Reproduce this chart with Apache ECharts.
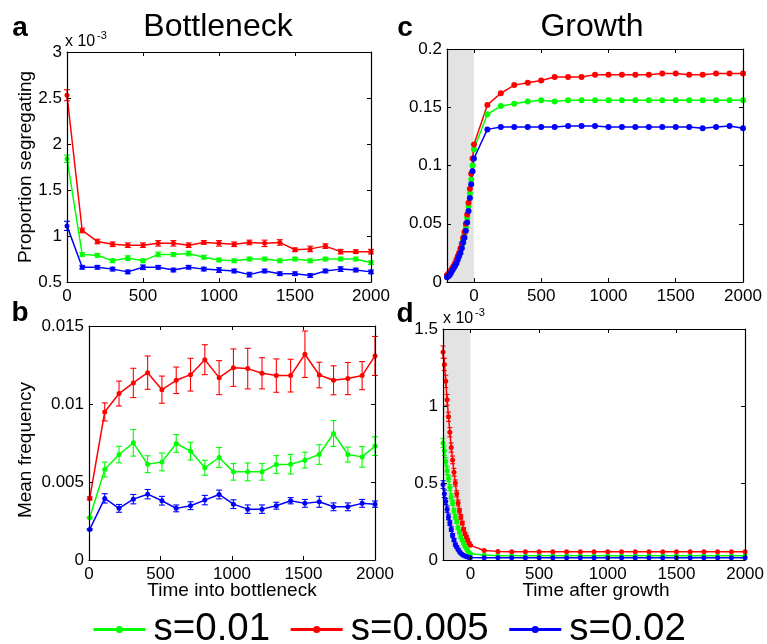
<!DOCTYPE html>
<html><head><meta charset="utf-8">
<script src="https://cdn.jsdelivr.net/npm/echarts@6/dist/echarts.min.js"></script>
<style>html,body{margin:0;padding:0;background:#fff}#c{width:767px;height:644px}</style>
</head><body><div id="c"></div>
<script>
// ---------- Panel a: proportion segregating (axis in units of 10^-3) ----------
const timeA = [0,100,200,300,400,500,600,700,800,900,1000,1100,1200,1300,1400,1500,1600,1700,1800,1900,2000];
const aGreen = [1.84,0.80,0.79,0.73,0.76,0.73,0.80,0.80,0.81,0.77,0.74,0.73,0.75,0.75,0.73,0.75,0.73,0.75,0.75,0.75,0.71];
const aRed   = [2.53,1.06,0.94,0.91,0.90,0.90,0.92,0.92,0.90,0.93,0.92,0.91,0.93,0.92,0.93,0.85,0.86,0.89,0.83,0.83,0.83];
const aBlue  = [1.11,0.66,0.66,0.64,0.61,0.66,0.66,0.63,0.66,0.64,0.63,0.62,0.58,0.62,0.59,0.59,0.57,0.62,0.64,0.63,0.61];
const aGreenErr = [0.04,0.02,0.02,0.02,0.025,0.02,0.025,0.02,0.025,0.02,0.02,0.02,0.02,0.02,0.02,0.02,0.02,0.02,0.02,0.02,0.02];
const aRedErr   = [0.06,0.025,0.025,0.025,0.025,0.025,0.03,0.03,0.025,0.02,0.03,0.025,0.025,0.035,0.03,0.02,0.03,0.025,0.025,0.02,0.025];
const aBlueErr  = [0.05,0.02,0.02,0.02,0.02,0.025,0.02,0.02,0.02,0.02,0.025,0.02,0.025,0.02,0.02,0.02,0.02,0.02,0.025,0.02,0.02];

// ---------- Panel b: mean frequency ----------
const timeB = [5,110,210,310,410,510,610,710,810,910,1010,1110,1210,1310,1410,1510,1610,1710,1810,1910,2000];
const bRed   = [0.00395,0.00949,0.01067,0.01135,0.01201,0.01092,0.01152,0.01188,0.01284,0.01169,0.01233,0.01227,0.01197,0.01182,0.01182,0.01319,0.01186,0.01152,0.01163,0.01182,0.01308];
const bGreen = [0.00271,0.00580,0.00676,0.00751,0.00614,0.00629,0.00747,0.00698,0.00591,0.00657,0.00565,0.00565,0.00565,0.00612,0.00614,0.00640,0.00676,0.00811,0.00676,0.00661,0.00730];
const bBlue  = [0.00196,0.00395,0.00331,0.00390,0.00422,0.00380,0.00331,0.00348,0.00384,0.00420,0.00358,0.00326,0.00326,0.00348,0.00380,0.00363,0.00373,0.00341,0.00341,0.00363,0.00358];
const bRedErr   = [0.0001,0.00058,0.0008,0.00094,0.00107,0.00087,0.00085,0.00105,0.00096,0.00109,0.0012,0.0013,0.001,0.00107,0.00105,0.00149,0.00082,0.00093,0.00103,0.0009,0.00125];
const bGreenErr = [0.00005,0.00048,0.00053,0.00085,0.00054,0.00057,0.00057,0.00057,0.00048,0.00064,0.00053,0.00057,0.00053,0.00057,0.00063,0.00051,0.00063,0.00083,0.00048,0.00066,0.0006];
const bBlueErr  = [0.00005,0.0003,0.00025,0.0003,0.0003,0.00028,0.00022,0.00025,0.0003,0.00028,0.00028,0.00027,0.00027,0.00022,0.0002,0.00025,0.00035,0.00025,0.00025,0.00025,0.0002];

// ---------- Panels c & d: growth phase (shaded) and after growth ----------
const timeGrowth = [-200,-190,-180,-170,-160,-150,-140,-130,-120,-110,-100,-90,-80,-70,-60,-50,-40,-30,-20,-10,0];
const timeAfter  = [100,200,300,400,500,600,700,800,900,1000,1100,1200,1300,1400,1500,1600,1700,1800,1900,2000];

const cRedGrowth   = [0.006,0.007,0.008,0.010,0.012,0.014,0.016,0.019,0.022,0.025,0.029,0.033,0.038,0.043,0.050,0.058,0.068,0.080,0.093,0.106,0.118];
const cGreenGrowth = [0.005,0.006,0.007,0.009,0.011,0.013,0.015,0.018,0.021,0.024,0.027,0.031,0.036,0.041,0.047,0.055,0.065,0.076,0.088,0.100,0.114];
const cBlueGrowth  = [0.004,0.005,0.006,0.008,0.010,0.012,0.014,0.016,0.019,0.022,0.025,0.029,0.034,0.038,0.044,0.051,0.061,0.072,0.084,0.095,0.106];
const cRedAfter    = [0.152,0.162,0.169,0.171,0.173,0.176,0.176,0.176,0.178,0.178,0.178,0.178,0.178,0.179,0.179,0.178,0.178,0.179,0.179,0.179];
const cGreenAfter  = [0.144,0.151,0.153,0.155,0.156,0.155,0.156,0.156,0.156,0.156,0.156,0.156,0.156,0.156,0.156,0.156,0.156,0.156,0.156,0.156];
const cBlueAfter   = [0.131,0.133,0.133,0.133,0.133,0.133,0.134,0.134,0.134,0.133,0.133,0.133,0.133,0.133,0.133,0.133,0.132,0.133,0.134,0.132];

// panel d in units of 10^-3
const dRedGrowth   = [1.35,1.27,1.16,1.04,0.93,0.83,0.73,0.65,0.57,0.50,0.43,0.37,0.32,0.28,0.24,0.20,0.17,0.15,0.13,0.11,0.095];
const dGreenGrowth = [0.76,0.71,0.64,0.58,0.53,0.47,0.41,0.37,0.32,0.28,0.25,0.21,0.18,0.15,0.13,0.11,0.09,0.075,0.06,0.048,0.04];
const dBlueGrowth  = [0.49,0.43,0.38,0.33,0.28,0.24,0.20,0.16,0.13,0.10,0.085,0.068,0.054,0.044,0.036,0.030,0.026,0.022,0.019,0.017,0.016];
const dRedAfter    = [0.062,0.056,0.054,0.053,0.053,0.053,0.053,0.053,0.053,0.053,0.053,0.053,0.053,0.053,0.053,0.053,0.053,0.053,0.053,0.053];
const dGreenAfter  = [0.032,0.028,0.027,0.027,0.027,0.027,0.027,0.027,0.027,0.027,0.027,0.027,0.027,0.027,0.027,0.027,0.027,0.027,0.027,0.027];
const dBlueAfter   = [0.015,0.015,0.015,0.015,0.015,0.015,0.015,0.015,0.015,0.015,0.015,0.015,0.015,0.015,0.015,0.015,0.015,0.015,0.015,0.015];
const dRedErr   = [0.04,0.04,0.04,0.035,0.03,0.03,0.03,0.025,0.025,0.02,0.02,0.02,0.015,0.015,0.012,0.01,0.01,0.01,0.008,0.006,0.005];
const dGreenErr = [0.03,0.03,0.025,0.025,0.02,0.02,0.02,0.015,0.015,0.015,0.012,0.01,0.01,0.01,0.008,0.008,0.006,0.005,0.005,0.004,0.004];
const dBlueErr  = [0.025,0.025,0.02,0.02,0.018,0.015,0.015,0.012,0.01,0.01,0.008,0.007,0.006,0.005,0.004,0.004,0.003,0.003,0.003,0.002,0.002];

const seriesNames = ['s=0.01','s=0.005','s=0.02'];
const xTicksGrowth = [0,500,1000,1500,2000];

// ---------- build ----------
const FONT = '"Liberation Sans", Arial, Helvetica, sans-serif';
const COL = ['#00ff00','#ff0000','#0000ff'];
const grids = [
  {left:67, top:52, width:304, height:230},
  {left:89, top:326, width:286, height:234},
  {left:447, top:49, width:296, height:233},
  {left:443, top:329, width:306, height:231}
];
const xCfg = [
  {min:0, max:2000, interval:500},
  {min:0, max:2000, interval:500},
  {min:-200, max:2000, custom:xTicksGrowth},
  {min:-200, max:2000, custom:xTicksGrowth}
];
const yCfg = [
  {min:0.5, max:3, interval:0.5},
  {min:0, max:0.015, interval:0.005},
  {min:0, max:0.2, interval:0.05},
  {min:0, max:1.5, interval:0.5}
];
const lineW = 1.2;
function axisCommon(show){
  return {
    z: 10,
    axisLine:{show:true, onZero:false, lineStyle:{color:'#000', width:lineW}},
    axisTick:{show:true, inside:true, length:4, lineStyle:{color:'#000', width:1}},
    axisLabel:{show:show, color:'#000', fontSize:17, fontFamily:FONT, margin:6},
    splitLine:{show:false}
  };
}
const xAxes = [], yAxes = [];
grids.forEach((g,i)=>{
  [true,false].forEach(main=>{
    const xa = Object.assign({type:'value', gridIndex:i, position: main?'bottom':'top', min:xCfg[i].min, max:xCfg[i].max}, axisCommon(main));
    xa.axisLabel.formatter = v => String(Math.round(v));
    if (xCfg[i].custom){
      xa.axisTick.customValues = xCfg[i].custom;
      xa.axisLabel.customValues = xCfg[i].custom;
    } else xa.interval = xCfg[i].interval;
    xAxes.push(xa);
    const ya = Object.assign({type:'value', gridIndex:i, position: main?'left':'right', min:yCfg[i].min, max:yCfg[i].max, interval:yCfg[i].interval}, axisCommon(main));
    ya.axisLabel.margin = 5;
    yAxes.push(ya);
  });
});
function errRender(capW){
  return function(params, api){
    const x = api.value(0), lo = api.value(1), hi = api.value(2);
    const p1 = api.coord([x, lo]), p2 = api.coord([x, hi]);
    const style = {stroke: api.visual('color'), lineWidth: 1.1};
    return {type:'group', children:[
      {type:'line', shape:{x1:p1[0],y1:p1[1],x2:p2[0],y2:p2[1]}, style:style},
      {type:'line', shape:{x1:p1[0]-capW,y1:p1[1],x2:p1[0]+capW,y2:p1[1]}, style:style},
      {type:'line', shape:{x1:p2[0]-capW,y1:p2[1],x2:p2[0]+capW,y2:p2[1]}, style:style}
    ]};
  };
}
const series = [];
function addLine(panel, k, xs, ys, symSize){
  series.push({
    type:'line', name:seriesNames[k], xAxisIndex:2*panel, yAxisIndex:2*panel,
    data: xs.map((t,j)=>[t, ys[j]]),
    symbol:'circle', symbolSize:symSize, showAllSymbol:true,
    lineStyle:{color:COL[k], width:1.5}, itemStyle:{color:COL[k]},
    z:4, animation:false, clip:false
  });
}
function addErr(panel, k, xs, ys, es, capW){
  series.push({
    type:'custom', name:'err'+panel+'_'+k, xAxisIndex:2*panel, yAxisIndex:2*panel,
    data: xs.map((t,j)=>[t, ys[j]-es[j], ys[j]+es[j]]),
    renderItem: errRender(capW), itemStyle:{color:COL[k]},
    encode:{x:0, y:[1,2]}, z:3, animation:false, silent:true
  });
}
// shading series for c and d
[2,3].forEach(p=>{
  series.push({type:'line', name:'shade'+p, xAxisIndex:2*p, yAxisIndex:2*p, data:[[-200,0],[0,0]],
    showSymbol:false, lineStyle:{width:0, opacity:0}, z:1, silent:true, animation:false,
    markArea:{silent:true, itemStyle:{color:'#e3e3e3', opacity:1}, data:[[{xAxis:-200},{xAxis:0}]]}});
});
const aVals = [aGreen,aRed,aBlue], aErrs = [aGreenErr,aRedErr,aBlueErr];
[0,1,2].forEach(k=>{ addErr(0,k,timeA,aVals[k],aErrs[k],3); addLine(0,k,timeA,aVals[k],5); });
const bVals = [bGreen,bRed,bBlue], bErrs = [bGreenErr,bRedErr,bBlueErr];
[0,1,2].forEach(k=>{ addErr(1,k,timeB,bVals[k],bErrs[k],3); addLine(1,k,timeB,bVals[k],5); });
const timeC = timeGrowth.concat(timeAfter);
const cVals = [cGreenGrowth.concat(cGreenAfter), cRedGrowth.concat(cRedAfter), cBlueGrowth.concat(cBlueAfter)];
[0,1,2].forEach(k=>{ addLine(2,k,timeC,cVals[k],6); });
const dVals = [dGreenGrowth.concat(dGreenAfter), dRedGrowth.concat(dRedAfter), dBlueGrowth.concat(dBlueAfter)];
const dErrs = [dGreenErr, dRedErr, dBlueErr];
[0,1,2].forEach(k=>{ addErr(3,k,timeGrowth,[dGreenGrowth,dRedGrowth,dBlueGrowth][k],dErrs[k],2.5); addLine(3,k,timeC,dVals[k],5); });

function txt(x,y,text,size,opts){
  return Object.assign({type:'text', x:x, y:y, z:20, silent:true,
    style:Object.assign({text:text, fontSize:size, fontFamily:FONT, fill:'#000', align:'center', verticalAlign:'middle'}, (opts&&opts.style)||{})},
    opts&&opts.rotation!==undefined?{rotation:opts.rotation}:{});
}
const graphics = [
  txt(218,27,'Bottleneck',32),
  txt(592,27,'Growth',32),
  txt(20,28,'a',28,{style:{fontWeight:'bold'}}),
  txt(20,313,'b',28,{style:{fontWeight:'bold'}}),
  txt(405,28,'c',28,{style:{fontWeight:'bold'}}),
  txt(405,314,'d',28,{style:{fontWeight:'bold'}}),
  txt(26,167,'Proportion segregating',19,{rotation:Math.PI/2}),
  txt(26,450,'Mean frequency',19,{rotation:Math.PI/2}),
  txt(232,591,'Time into bottleneck',19),
  txt(596,591,'Time after growth',19),
  txt(65,42,'x 10',16,{style:{align:'left'}}),
  txt(97,36,'-3',11,{style:{align:'left'}}),
  txt(443,319,'x 10',16,{style:{align:'left'}}),
  txt(475,313,'-3',11,{style:{align:'left'}})
];

const chart = echarts.init(document.getElementById('c'));
chart.setOption({
  animation:false,
  backgroundColor:'#fff',
  grid: grids.map(g=>Object.assign({containLabel:false}, g)),
  xAxis: xAxes, yAxis: yAxes,
  legend:{data:seriesNames, left:92, top:610, padding:0, itemGap:19, itemWidth:52, itemHeight:9,
    selectedMode:false, lineStyle:{width:3}, textStyle:{fontSize:38.5, fontFamily:FONT, color:'#000', padding:[0,0,0,3]}},
  series: series,
  graphic: graphics
});
</script>
</body></html>
